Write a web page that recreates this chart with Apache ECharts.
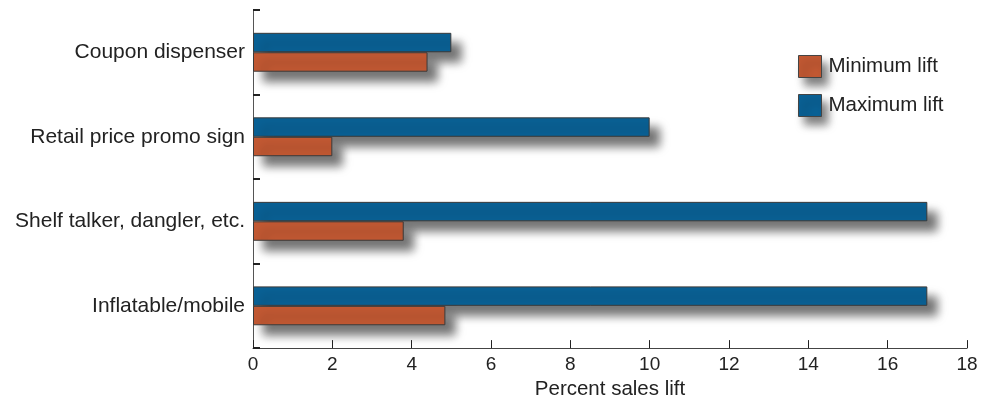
<!DOCTYPE html>
<html><head><meta charset="utf-8">
<script src="https://cdn.jsdelivr.net/npm/echarts@6/dist/echarts.min.js"></script>
<style>html,body{margin:0;padding:0;background:#fff}#c{width:989px;height:405px}</style>
</head><body><div id="c"></div>
<script>
const categories = ['Coupon dispenser', 'Retail price promo sign', 'Shelf talker, dangler, etc.', 'Inflatable/mobile'];
const minimumLift = [4.4, 2.0, 3.8, 4.85];
const maximumLift = [5.0, 10.0, 17.0, 17.0];
const xTicks = [0, 2, 4, 6, 8, 10, 12, 14, 16, 18];

const font = 'Liberation Sans, Arial, Helvetica, sans-serif';
const chart = echarts.init(document.getElementById('c'));
const shadow = {shadowColor: 'rgba(0,0,0,0.55)', shadowBlur: 10, shadowOffsetX: 10, shadowOffsetY: 10};
chart.setOption({
  animation: false,
  grid: {left: 253, right: 22, top: 10, bottom: 53},
  legend: {
    data: ['Minimum lift', 'Maximum lift'],
    orient: 'vertical', left: 793, top: 50,
    icon: 'rect',
    itemWidth: 23, itemHeight: 22, itemGap: 16,
    textStyle: {fontFamily: font, fontSize: 20.5, color: '#222', padding: [0, 0, 0, 2]},
    itemStyle: {borderColor: '#444', borderWidth: 1, shadowColor: 'rgba(0,0,0,0.5)', shadowBlur: 8, shadowOffsetX: 6, shadowOffsetY: 8}
  },
  xAxis: {
    type: 'value', min: xTicks[0], max: xTicks[xTicks.length - 1], interval: 2,
    name: 'Percent sales lift', nameLocation: 'middle', nameGap: 30,
    nameTextStyle: {fontFamily: font, fontSize: 20.5, color: '#222'},
    axisLine: {show: true, lineStyle: {color: '#444', width: 1}},
    axisTick: {show: true, inside: true, length: 8, lineStyle: {color: '#222'}},
    axisLabel: {fontFamily: font, fontSize: 19, color: '#222', margin: 7},
    splitLine: {show: false}
  },
  yAxis: {
    type: 'category', data: categories, inverse: true,
    axisLine: {show: true, lineStyle: {color: '#555', width: 1}},
    axisTick: {show: true, inside: true, length: 7, lineStyle: {color: '#222', width: 2}},
    axisLabel: {fontFamily: font, fontSize: 21, color: '#222', margin: 8}
  },
  series: [
    {name: 'Maximum lift', type: 'bar', data: maximumLift, barGap: '0%', barCategoryGap: '54%',
     itemStyle: Object.assign({color: '#0A6195', borderColor: '#3a3a3a', borderWidth: 1}, shadow)},
    {name: 'Minimum lift', type: 'bar', data: minimumLift, barGap: '0%', barCategoryGap: '54%',
     itemStyle: Object.assign({color: '#C25933', borderColor: '#3a3a3a', borderWidth: 1}, shadow)}
  ]
});
</script></body></html>
